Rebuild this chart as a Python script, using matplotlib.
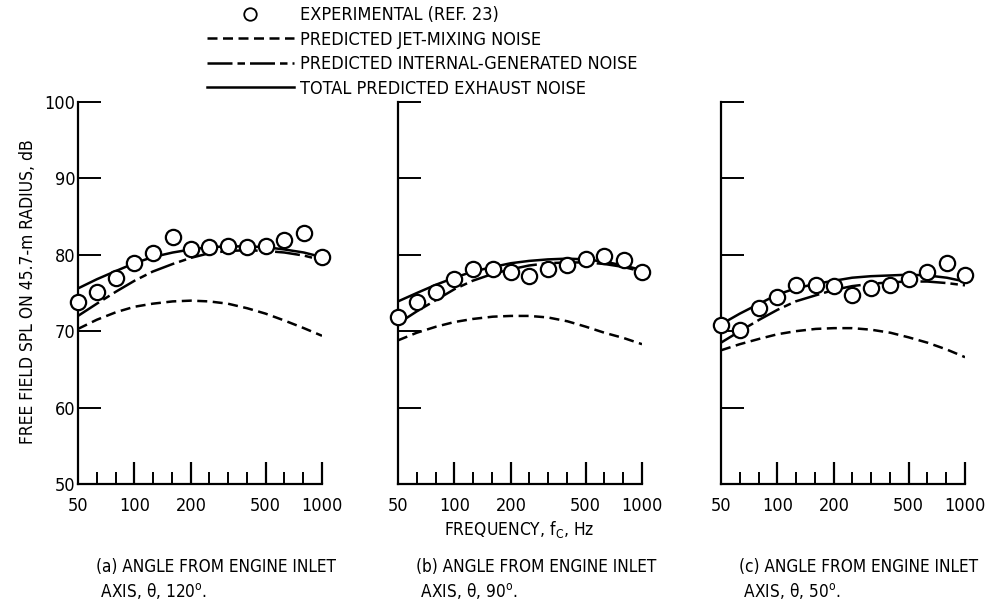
import matplotlib
matplotlib.use("Agg")
import matplotlib.pyplot as plt
from matplotlib.lines import Line2D
from matplotlib.ticker import FixedLocator, NullFormatter

plt.rcParams['font.family'] = ['DejaVu Sans']
plt.rcParams['font.stretch'] = 'condensed'
plt.rcParams['mathtext.fontset'] = 'custom'
plt.rcParams['mathtext.rm'] = 'DejaVu Sans:stretch=condensed'
plt.rcParams['mathtext.it'] = 'DejaVu Sans:italic:stretch=condensed'
plt.rcParams['font.size'] = 12

# one-third octave band centre frequencies, Hz
freq = [50, 63, 80, 100, 125, 160, 200, 250, 315, 400, 500, 630, 800, 1000]

# (a) theta = 120 deg
exp_a = [73.8, 75.1, 76.9, 78.9, 80.3, 82.3, 80.8, 81.0, 81.1, 81.0, 81.1, 81.9, 82.9, 79.7]
jet_a = [70.3, 71.5, 72.5, 73.2, 73.6, 73.9, 74.0, 73.9, 73.6, 73.0, 72.3, 71.4, 70.4, 69.4]
int_a = [72.0, 73.6, 75.2, 76.6, 77.8, 78.8, 79.6, 80.2, 80.5, 80.6, 80.5, 80.3, 79.9, 79.3]
tot_a = [75.6, 76.8, 77.9, 78.9, 79.7, 80.3, 80.7, 81.0, 81.1, 81.1, 81.0, 80.7, 80.3, 79.7]

# (b) theta = 90 deg
exp_b = [71.8, 73.8, 75.1, 76.8, 78.1, 78.2, 77.7, 77.2, 78.2, 78.7, 79.5, 79.8, 79.3, 77.8]
jet_b = [68.8, 69.8, 70.6, 71.2, 71.6, 71.9, 72.0, 72.0, 71.8, 71.3, 70.6, 69.8, 69.1, 68.3]
int_b = [71.0, 72.6, 74.1, 75.5, 76.6, 77.5, 78.1, 78.6, 78.9, 79.0, 79.0, 78.8, 78.4, 77.8]
tot_b = [73.9, 75.0, 76.1, 77.0, 77.8, 78.4, 78.9, 79.2, 79.4, 79.5, 79.4, 79.1, 78.6, 78.0]

# (c) theta = 50 deg
exp_c = [70.8, 70.1, 73.1, 74.5, 76.1, 76.0, 75.9, 74.7, 75.7, 76.0, 76.8, 77.7, 78.9, 77.3]
jet_c = [67.5, 68.3, 69.0, 69.6, 70.0, 70.3, 70.4, 70.4, 70.2, 69.8, 69.2, 68.5, 67.6, 66.6]
int_c = [68.5, 70.0, 71.5, 72.8, 73.9, 74.7, 75.4, 75.9, 76.2, 76.4, 76.5, 76.5, 76.3, 76.0]
tot_c = [70.9, 72.3, 73.6, 74.8, 75.6, 76.2, 76.6, 77.0, 77.2, 77.3, 77.4, 77.3, 77.0, 76.5]

captions = ["(a) ANGLE FROM ENGINE INLET\n AXIS, \u03b8, 120$^\\mathrm{o}$.",
            "(b) ANGLE FROM ENGINE INLET\n AXIS, \u03b8, 90$^\\mathrm{o}$.",
            "(c) ANGLE FROM ENGINE INLET\n AXIS, \u03b8, 50$^\\mathrm{o}$."]

xticks_major = [100, 200, 500, 1000]
xticks_minor = [63, 79.4, 126, 158, 251, 316, 398, 631, 794]
xlabels = [50, 100, 200, 500, 1000]
yticks = [50, 60, 70, 80, 90, 100]

jet_style = (0, (4, 2.2))
int_style = (0, (10, 2, 3, 2))

fig = plt.figure(figsize=(9.89, 6.03), dpi=100)
lefts = [78 / 989, 398 / 989, 721 / 989]
width = 244 / 989
bottom = 1 - 484 / 603
height = (484 - 102) / 603

panels = [(exp_a, jet_a, int_a, tot_a), (exp_b, jet_b, int_b, tot_b), (exp_c, jet_c, int_c, tot_c)]
for i, (ex, jt, it, tt) in enumerate(panels):
    ax = fig.add_axes([lefts[i], bottom, width, height])
    ax.plot(freq, jt, color='black', lw=1.8, linestyle=jet_style)
    ax.plot(freq, it, color='black', lw=1.8, linestyle=int_style)
    ax.plot(freq, tt, color='black', lw=1.8)
    ax.plot(freq, ex, 'o', ms=11, mfc='white', mec='black', mew=1.6, zorder=5, clip_on=False)
    ax.set_xscale('log')
    ax.set_xlim(50, 1000)
    ax.set_ylim(50, 100)
    ax.spines['top'].set_visible(False)
    ax.spines['right'].set_visible(False)
    ax.spines['left'].set_linewidth(1.6)
    ax.spines['bottom'].set_linewidth(1.6)
    ax.xaxis.set_major_locator(FixedLocator(xticks_major))
    ax.xaxis.set_minor_locator(FixedLocator(xticks_minor))
    ax.xaxis.set_major_formatter(NullFormatter())
    ax.xaxis.set_minor_formatter(NullFormatter())
    ax.tick_params(axis='x', which='major', direction='in', length=15.5, width=1.6, labelbottom=False)
    ax.tick_params(axis='x', which='minor', direction='in', length=8.5, width=1.4)
    ax.set_yticks(yticks)
    ax.tick_params(axis='y', direction='in', length=16.5, width=1.4, pad=2,
                   labelsize=13, labelleft=(i == 0))
    for f in xlabels:
        ax.text(f, -0.035, str(f), transform=ax.get_xaxis_transform(),
                ha='center', va='top', fontsize=13)
    fig.text(lefts[i] + 18 / 989, 1 - 558 / 603, captions[i], ha='left', va='top',
             fontsize=12.3, linespacing=1.3)

fig.text(28 / 989, 1 - 292 / 603, "FREE FIELD SPL ON 45.7-m RADIUS, dB", rotation=90,
         ha='center', va='center', fontsize=12.5)
fig.text(519 / 989, 1 - 529 / 603, "FREQUENCY, f$_\\mathrm{C}$, Hz", ha='center', va='center',
         fontsize=12.5)

handles = [Line2D([], [], marker='o', ls='none', ms=9, mfc='white', mec='black', mew=1.3),
           Line2D([], [], color='black', lw=1.8, linestyle=jet_style),
           Line2D([], [], color='black', lw=1.8, linestyle=int_style),
           Line2D([], [], color='black', lw=1.8)]
labels = ["EXPERIMENTAL (REF. 23)", "PREDICTED JET-MIXING NOISE",
          "PREDICTED INTERNAL-GENERATED NOISE", "TOTAL PREDICTED EXHAUST NOISE"]
fig.legend(handles, labels, loc='upper left', bbox_to_anchor=(198 / 989, 1 + 3 / 603),
           frameon=False, handlelength=4.8, handletextpad=0.35, labelspacing=0.36,
           borderpad=0, fontsize=13)

fig.savefig("out.png", dpi=100, facecolor='white')
